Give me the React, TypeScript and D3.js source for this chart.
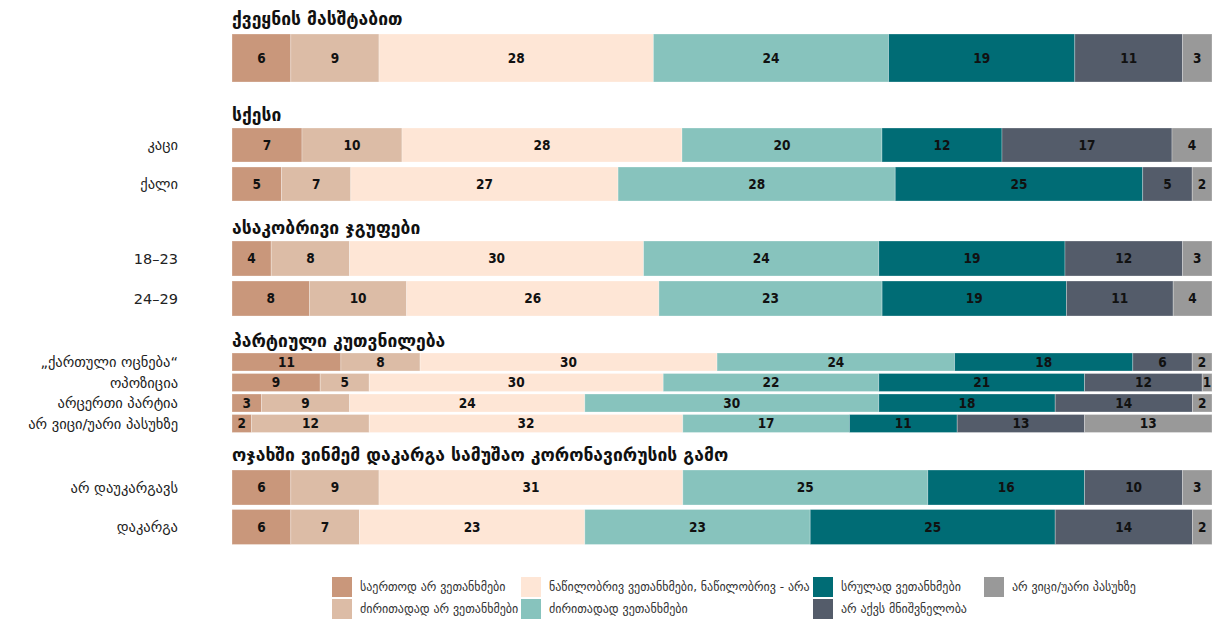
import React, { useEffect } from 'react';
import * as d3 from 'd3';

// answer categories (stack order, left → right)
const answers = [
  'საერთოდ არ ვეთანხმები',
  'ძირითადად არ ვეთანხმები',
  'ნაწილობრივ ვეთანხმები, ნაწილობრივ - არა',
  'ძირითადად ვეთანხმები',
  'სრულად ვეთანხმები',
  'არ აქვს მნიშვნელობა',
  'არ ვიცი/უარი პასუხზე',
];
const colors = ['#c9977b', '#dcbca6', '#fee6d6', '#87c3bd', '#006c75', '#545c6a', '#999999'];

const groupTitles = [
  'ქვეყნის მასშტაბით',
  'სქესი',
  'ასაკობრივი ჯგუფები',
  'პარტიული კუთვნილება',
  'ოჯახში ვინმემ დაკარგა სამუშაო კორონავირუსის გამო',
];

const rowLabels = [
  [''],
  ['კაცი', 'ქალი'],
  ['18–23', '24–29'],
  ['„ქართული ოცნება“', 'ოპოზიცია', 'არცერთი პარტია', 'არ ვიცი/უარი პასუხზე'],
  ['არ დაუკარგავს', 'დაკარგა'],
];

const rowValues = [
  [[6, 9, 28, 24, 19, 11, 3]],
  [[7, 10, 28, 20, 12, 17, 4], [5, 7, 27, 28, 25, 5, 2]],
  [[4, 8, 30, 24, 19, 12, 3], [8, 10, 26, 23, 19, 11, 4]],
  [
    [11, 8, 30, 24, 18, 6, 2],
    [9, 5, 30, 22, 21, 12, 1],
    [3, 9, 24, 30, 18, 14, 2],
    [2, 12, 32, 17, 11, 13, 13],
  ],
  [[6, 9, 31, 25, 16, 10, 3], [6, 7, 23, 23, 25, 14, 2]],
];

// layout per group: title baseline, first bar top, bar height, row step
const layout = [
  { title: 25, top: 34, h: 48, step: 0 },
  { title: 121, top: 128, h: 34, step: 39 },
  { title: 234, top: 241, h: 35, step: 40 },
  { title: 347, top: 353, h: 18, step: 20.5 },
  { title: 461, top: 470, h: 35, step: 39.5 },
];

const W = 1215;
const H = 623;
const numFont = "'DejaVu Sans Condensed', 'DejaVu Sans', sans-serif";
const geoFont = "'DejaVu Sans', sans-serif";

const x = d3.scaleLinear().domain([0, 1]).range([232, 1212]);

const stack = d3
  .stack<number[], number>()
  .keys(d3.range(answers.length))
  .value((d, k) => d[k])
  .offset(d3.stackOffsetExpand);

const legendCols = [332, 521, 813, 984];

export default function App() {
  useEffect(() => {
    document.body.style.margin = '0';
    document.body.style.overflow = 'hidden';
  }, []);

  return (
    <svg width={W} height={H} style={{ display: 'block' }}>
      <rect width={W} height={H} fill="#fff" />
      {groupTitles.map((t, gi) => {
        const L = layout[gi];
        const series = stack(rowValues[gi]);
        return (
          <g key={gi}>
            <text x={232} y={L.title} fontFamily={geoFont} fontWeight="bold" fontSize={17.5} fill="#111">
              {t}
            </text>
            {rowValues[gi].map((row, ri) => {
              const y0 = L.top + ri * L.step;
              return (
                <g key={ri}>
                  <text
                    x={178}
                    y={y0 + L.h / 2}
                    dy="0.35em"
                    textAnchor="end"
                    fontFamily={geoFont}
                    fontSize={14.5}
                    fill="#222"
                  >
                    {rowLabels[gi][ri]}
                  </text>
                  {series.map((s, k) => {
                    const a = x(s[ri][0]);
                    const b = x(s[ri][1]);
                    return (
                      <g key={k}>
                        <rect
                          x={a}
                          y={y0}
                          width={b - a}
                          height={L.h}
                          fill={colors[k]}
                          stroke="#ffffff"
                          strokeOpacity={0.35}
                          strokeWidth={0.8}
                        />
                        <text
                          x={(a + b) / 2}
                          y={y0 + L.h / 2}
                          dy="0.36em"
                          textAnchor="middle"
                          fontFamily={numFont}
                          fontWeight="bold"
                          fontSize={13.5}
                          fill="#111"
                        >
                          {row[k]}
                        </text>
                      </g>
                    );
                  })}
                </g>
              );
            })}
          </g>
        );
      })}
      {answers.map((a, i) => {
        const col = Math.floor(i / 2);
        const r = i % 2;
        const sx = legendCols[col];
        const sy = 577 + r * 22;
        return (
          <g key={a}>
            <rect x={sx} y={sy} width={20} height={20} fill={colors[i]} />
            <text x={sx + 28} y={sy + 10} dy="0.35em" fontFamily={geoFont} fontSize={12} fill="#333">
              {a}
            </text>
          </g>
        );
      })}
    </svg>
  );
}
